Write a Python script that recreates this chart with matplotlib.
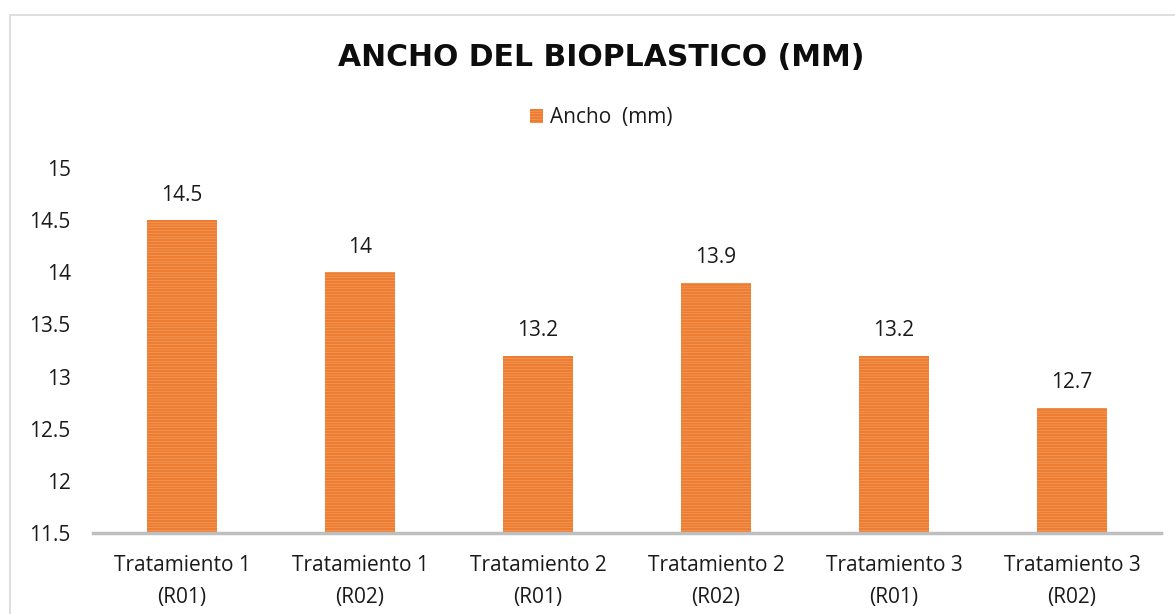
import matplotlib.pyplot as plt
from matplotlib.patches import Rectangle

plt.rcParams['font.family'] = ['Open Sans', 'DejaVu Sans']
plt.rcParams['hatch.linewidth'] = 1.8

categories = ["Tratamiento 1\n(R01)", "Tratamiento 1\n(R02)", "Tratamiento 2\n(R01)",
              "Tratamiento 2\n(R02)", "Tratamiento 3\n(R01)", "Tratamiento 3\n(R02)"]
ancho = [14.5, 14.0, 13.2, 13.9, 13.2, 12.7]
labels = ["14.5", "14", "13.2", "13.9", "13.2", "12.7"]
yticks = [11.5, 12, 12.5, 13, 13.5, 14, 14.5, 15]
ytick_labels = ["11.5", "12", "12.5", "13", "13.5", "14", "14.5", "15"]

txt = '#1a1a1a'
W, H = 1175, 614

fig = plt.figure(figsize=(11.75, 6.14), dpi=100)
ax = fig.add_axes([93 / W, 1 - 533 / H, 1068 / W, 365 / H])

x = range(len(categories))
ax.bar(x, [v - 11.5 for v in ancho], bottom=11.5, width=0.39,
       color='#F8C6A2', edgecolor='#ED7D31', hatch='------', linewidth=0,
       label='Ancho  (mm)')

# etiquetas de valor encima de cada barra
for xi, v, lab in zip(x, ancho, labels):
    ax.annotate(lab, (xi, v), xytext=(0, 18), textcoords='offset points',
                ha='center', va='center', fontsize=15, color=txt)

ax.set_xlim(-0.5, len(categories) - 0.5)
ax.set_ylim(11.5, 15)
ax.set_yticks(yticks)
ax.set_yticklabels(ytick_labels)
ax.set_xticks(list(x))
ax.set_xticklabels(categories, linespacing=1.7)
ax.tick_params(axis='both', length=0, labelsize=15, labelcolor=txt)
ax.tick_params(axis='y', pad=16)
ax.tick_params(axis='x', pad=15.5)
for s in ['top', 'right', 'left']:
    ax.spines[s].set_visible(False)
ax.spines['bottom'].set_color('#BFBFBF')
ax.spines['bottom'].set_linewidth(2.5)

fig.text(601 / W, 1 - 58 / H, "ANCHO DEL BIOPLASTICO (MM)", ha='center', va='center',
         fontsize=21.5, fontweight='bold', color='#0D0D0D', family='DejaVu Sans')
fig.legend(loc='center', bbox_to_anchor=(601 / W, 1 - 118 / H), frameon=False,
           fontsize=15, handlelength=0.65, handleheight=0.65, handletextpad=0.3,
           labelcolor=txt)

# borde del gráfico (recortado a la derecha y abajo)
fig.patches.append(Rectangle((10 / W, -0.05), 1.1, 1 - 15 / H + 0.05,
                             transform=fig.transFigure, fill=False,
                             edgecolor='#D9D9D9', linewidth=1.2))

fig.savefig('out.png', dpi=100)
